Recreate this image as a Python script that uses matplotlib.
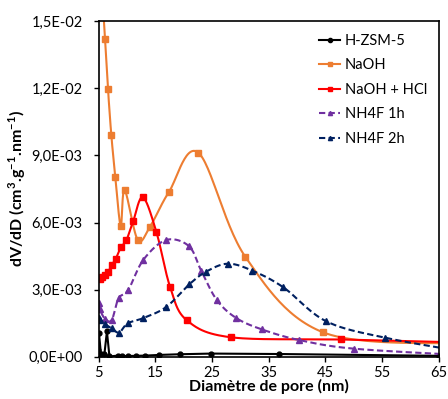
import numpy as np
import matplotlib
matplotlib.use("Agg")
import matplotlib.pyplot as plt

plt.rcParams['font.family'] = ['Lato', 'DejaVu Sans']
plt.rcParams['mathtext.fontset'] = 'custom'
plt.rcParams['mathtext.rm'] = 'Lato'
plt.rcParams['mathtext.bf'] = 'Lato:bold'

# pore diameter (nm) / dV/dD values
hzsm5_x = [4.9, 5.05, 5.4, 6.0, 6.45, 6.9, 8.4, 9.2, 10.1, 11.5, 13.2, 15.7, 19.3, 24.9, 36.9, 65]
hzsm5_y = [0.0003, 0.00105, 0.00012, 0.0001, 0.00113, 0.00001, 0.00005, 0.00003, 0.00003,
           0.00004, 0.00005, 0.00008, 0.00011, 0.00014, 0.00012, 0.00004]

naoh_x = [5.5, 6.11, 6.64, 7.23, 7.93, 8.88, 9.58, 11.88, 14.05, 17.4, 22.6, 30.87, 44.6, 70]
naoh_y = [0.0168, 0.01421, 0.01197, 0.00991, 0.00805, 0.00586, 0.00745, 0.00523, 0.00581,
          0.00737, 0.00912, 0.00447, 0.00109, 0.00058]

hcl_x = [5.0, 5.3, 5.6, 6.1, 6.7, 7.3, 8.0, 8.9, 9.9, 11.1, 12.8, 15.2, 17.6, 20.5, 28.3, 47.8, 70]
hcl_y = [0.00350, 0.00347, 0.00357, 0.00367, 0.00381, 0.00410, 0.00437, 0.00489, 0.00522,
         0.00607, 0.00713, 0.00556, 0.00312, 0.00164, 0.00087, 0.00077, 0.00063]

nh1_x = [5.0, 5.2, 6.1, 7.3, 8.5, 10.2, 12.9, 16.9, 20.9, 23.1, 25.8, 29.2, 33.8, 40.3, 50.0, 70]
nh1_y = [0.0024, 0.00212, 0.00170, 0.00164, 0.00261, 0.00298, 0.00434, 0.00522, 0.00495,
         0.00384, 0.00255, 0.00174, 0.00122, 0.00075, 0.00036, 0.00006]

nh2_x = [5.0, 5.3, 6.1, 7.3, 8.6, 10.1, 12.8, 16.9, 21.0, 24.0, 27.8, 32.1, 37.6, 45.1, 55.5, 70]
nh2_y = [0.00175, 0.00165, 0.00146, 0.00127, 0.00108, 0.00149, 0.00172, 0.00222, 0.00324,
         0.00381, 0.00416, 0.00385, 0.0031, 0.00159, 0.00085, 0.0002]


def smooth(xs, ys, n=30):
    # Excel-like smoothed line (Catmull-Rom bezier)
    p = np.column_stack([xs, ys]).astype(float)
    p = np.vstack([p[0], p, p[-1]])
    out = []
    t = np.linspace(0, 1, n)[:, None]
    for i in range(1, len(p) - 2):
        p0, p1, p2, p3 = p[i - 1], p[i], p[i + 1], p[i + 2]
        c1 = p1 + (p2 - p0) / 6
        c2 = p2 - (p3 - p1) / 6
        seg = ((1 - t) ** 3) * p1 + 3 * ((1 - t) ** 2) * t * c1 + 3 * (1 - t) * t ** 2 * c2 + t ** 3 * p2
        out.append(seg)
    out = np.vstack(out)
    return out[:, 0], out[:, 1]


fig = plt.figure(figsize=(4.48, 3.99), dpi=100)
ax = fig.add_axes([0.2203, 0.106, 0.759, 0.8406])

series = [
    ("H-ZSM-5", hzsm5_x, hzsm5_y, "black", "-", "o", 3.5, False),
    ("NaOH", naoh_x, naoh_y, "#ED7D31", "-", "s", 4, True),
    ("NaOH + HCl", hcl_x, hcl_y, "#FF0000", "-", "s", 4.5, True),
    ("NH4F 1h", nh1_x, nh1_y, "#7030A0", (0, (3, 1.6)), "^", 5, True),
    ("NH4F 2h", nh2_x, nh2_y, "#002060", (0, (3, 1.6)), "^", 5, True),
]

for name, xs, ys, col, ls, mk, ms, sm in series:
    if sm:
        sx, sy = smooth(xs, ys)
    else:
        sx, sy = xs, ys
    ax.plot(sx, sy, color=col, ls=ls, lw=1.5)
    ax.plot(xs, ys, color=col, ls="none", marker=mk, ms=ms)
    ax.plot([], [], color=col, ls=ls, lw=1.5, marker=mk, ms=3, label=name)

ax.set_xlim(5, 65)
ax.set_ylim(0, 0.015)
ax.set_xticks(np.arange(5, 66, 10))
yt = np.arange(0, 0.0151, 0.003)
ax.set_yticks(yt)
ax.set_yticklabels([("%.1E" % v).replace(".", ",") for v in yt])
ax.tick_params(labelsize=10.5, length=3.5, width=1, direction="out")
ax.tick_params(axis="x", pad=3.5)
ax.tick_params(axis="y", pad=8)
for s in ax.spines.values():
    s.set_linewidth(1.2)

ax.set_xlabel("Diamètre de pore (nm)", fontsize=11.5, fontweight="bold", labelpad=-1)
ax.set_ylabel(r"dV/dD (cm$^\mathbf{3}$.g$^\mathbf{-1}$.nm$^\mathbf{-1}$)",
              fontsize=11.5, fontweight="bold", labelpad=0)

ax.legend(loc="upper right", frameon=False, fontsize=10.5, handlelength=1.45,
          handletextpad=0.3, labelspacing=0.72, borderaxespad=0.4, bbox_to_anchor=(1.0, 0.997))

fig.savefig("out.png", dpi=100)
